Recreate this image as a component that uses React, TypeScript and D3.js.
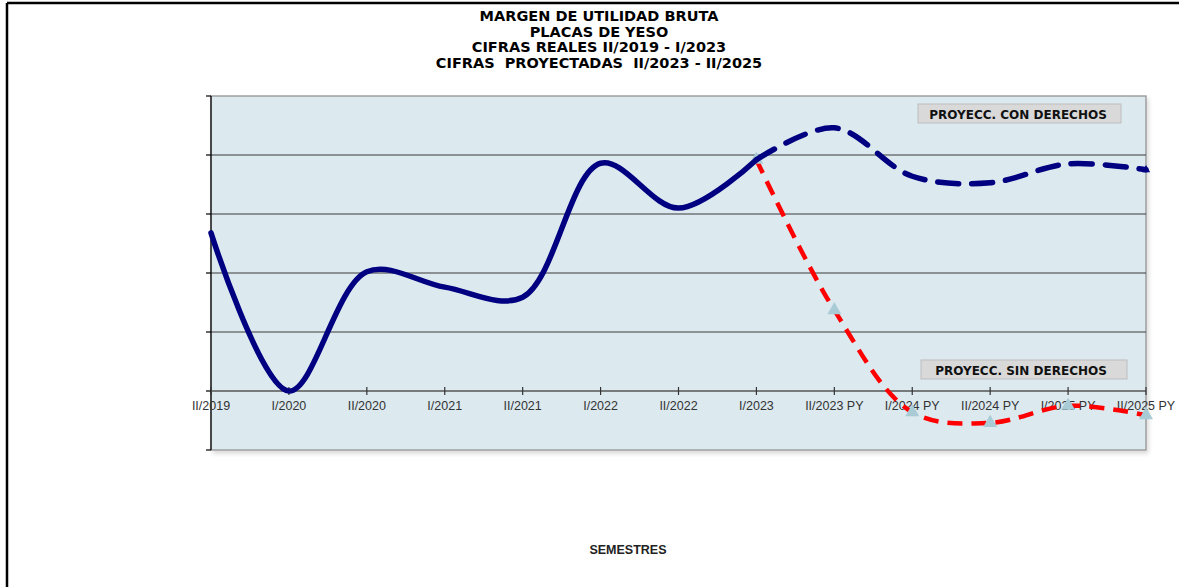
import React from "react";
import * as d3 from "d3";

const categories = [
  "II/2019", "I/2020", "II/2020", "I/2021", "II/2021", "I/2022", "II/2022",
  "I/2023", "II/2023 PY", "I/2024 PY", "II/2024 PY", "I/2025 PY", "II/2025 PY",
];
const realValues = [2.68, 0.0, 2.02, 1.76, 1.59, 3.86, 3.1, 3.92];
const conDerechos = [3.92, 4.46, 3.64, 3.53, 3.85, 3.75];
const sinDerechos = [3.92, 1.37, -0.36, -0.54, -0.25, -0.41];
const titleLines = [
  "MARGEN DE UTILIDAD BRUTA",
  "PLACAS DE YESO",
  "CIFRAS REALES II/2019 - I/2023",
  "CIFRAS  PROYECTADAS  II/2023 - II/2025",
];
const yTicks = [-1, 0, 1, 2, 3, 4, 5];

const W = 1179, H = 587;
const L = 211, R = 1146, T = 96, B = 450;

export default function App() {
  const x = d3.scalePoint<string>().domain(categories).range([L, R]);
  const y = d3.scaleLinear().domain([-1, 5]).range([B, T]);
  const line = d3
    .line<[string, number]>()
    .x((d) => x(d[0]) as number)
    .y((d) => y(d[1]))
    .curve(d3.curveCatmullRom.alpha(0.5));

  const realPts: [string, number][] = realValues.map((v, i) => [categories[i], v]);
  const projCats = categories.slice(7);
  const conPts: [string, number][] = conDerechos.map((v, i) => [projCats[i], v]);
  const sinPts: [string, number][] = sinDerechos.map((v, i) => [projCats[i], v]);

  const tri = d3.symbol().type(d3.symbolTriangle);
  const y0 = y(0);

  return (
    <svg width={W} height={H} style={{ position: "absolute", left: 0, top: 0, background: "#fff" }}>
      <defs>
        <filter id="sh" x="-5%" y="-5%" width="110%" height="115%">
          <feDropShadow dx="2" dy="3" stdDeviation="2" floodColor="#000" floodOpacity="0.15" />
        </filter>
      </defs>
      {/* outer frame */}
      <line x1={7} y1={3} x2={W} y2={3} stroke="#000" strokeWidth={2.5} />
      <line x1={7} y1={3} x2={7} y2={H} stroke="#000" strokeWidth={2.5} />

      {/* title */}
      {titleLines.map((t, i) => (
        <text key={i} x={599} y={21 + i * 15.6} textAnchor="middle"
          fontFamily="'DejaVu Sans', Verdana, sans-serif" fontWeight="bold" fontSize={14.5}
          fill="#000" style={{ whiteSpace: "pre" }}>
          {t}
        </text>
      ))}

      {/* plot area */}
      <rect x={L} y={T} width={R - L} height={B - T} fill="#dce9ef" stroke="#8c8c8c" strokeWidth={1.2} filter="url(#sh)" />

      {/* gridlines */}
      {yTicks.filter((t) => t > -1 && t < 5 && t !== 0).map((t) => (
        <line key={t} x1={L} x2={R} y1={y(t)} y2={y(t)} stroke="#3a3a3a" strokeWidth={1} />
      ))}

      {/* y axis */}
      <line x1={L} x2={L} y1={T} y2={B} stroke="#000" strokeWidth={1.2} />
      {yTicks.map((t) => (
        <line key={t} x1={L - 5} x2={L} y1={y(t)} y2={y(t)} stroke="#000" strokeWidth={1.2} />
      ))}

      {/* x axis at zero */}
      <line x1={L} x2={R} y1={y0} y2={y0} stroke="#555" strokeWidth={1.3} />
      {categories.map((c) => (
        <line key={c} x1={x(c)} x2={x(c)} y1={y0 - 4} y2={y0 + 4} stroke="#333" strokeWidth={1.2} />
      ))}
      {categories.map((c) => (
        <text key={c} x={x(c) as number} y={y0 + 19} textAnchor="middle"
          fontFamily="'Liberation Sans', Arial, sans-serif" fontSize={12.5} fill="#333">
          {c}
        </text>
      ))}

      {/* series */}
      <g>
        <path d={line(sinPts) || ""} fill="none" stroke="#ff0000" strokeWidth={4.5}
          strokeDasharray="15 9" />
        {sinPts.map((p, i) => (
          <path key={i} d={tri.size(85)() || ""} fill="#a9cbd6"
            transform={`translate(${x(p[0])},${y(p[1])})`} />
        ))}
        <path d={line(conPts) || ""} fill="none" stroke="#000080" strokeWidth={5.5}
          strokeDasharray="21 13" strokeLinecap="round" />
        <path d={line(realPts) || ""} fill="none" stroke="#000080" strokeWidth={5.5}
          strokeLinecap="round" />
        {conPts.slice(-1).map((p, i) => (
          <path key={i} d={tri.size(30)() || ""} fill="#000080"
            transform={`translate(${x(p[0])},${y(p[1])})`} />
        ))}
      </g>

      {/* legend-like labels */}
      <rect x={918} y={104} width={203} height={19} fill="#d9d9d9" stroke="#bdbdbd" />
      <text x={1018} y={118.5} textAnchor="middle" fontFamily="'DejaVu Sans', Verdana, sans-serif"
        fontWeight="bold" fontSize={12} fill="#111">PROYECC. CON DERECHOS</text>
      <rect x={921} y={360} width={206} height={19} fill="#d9d9d9" stroke="#bdbdbd" />
      <text x={1021} y={374.5} textAnchor="middle" fontFamily="'DejaVu Sans', Verdana, sans-serif"
        fontWeight="bold" fontSize={12} fill="#111">PROYECC. SIN DERECHOS</text>

      {/* x axis title */}
      <text x={628} y={554} textAnchor="middle" fontFamily="'Liberation Sans', Arial, sans-serif"
        fontWeight="bold" fontSize={12.5} fill="#222">SEMESTRES</text>
    </svg>
  );
}
